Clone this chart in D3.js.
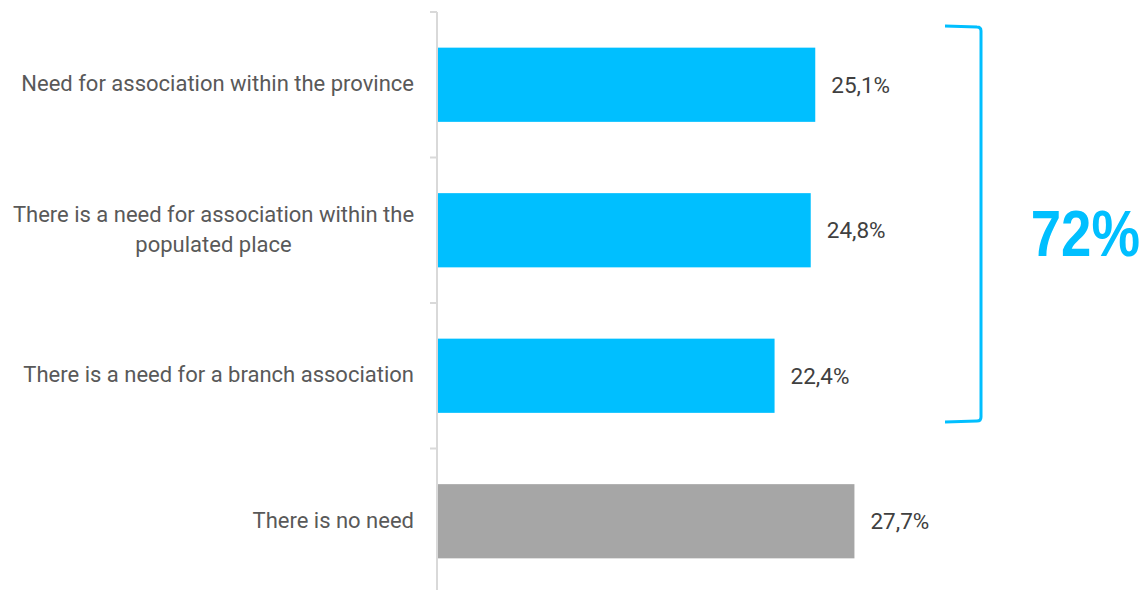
<!DOCTYPE html>
<html>
<head>
<meta charset="utf-8">
<script src="https://cdn.jsdelivr.net/npm/d3@7"></script>
<style>
  html, body { margin: 0; padding: 0; background: #fff; }
  svg { display: block; }
</style>
</head>
<body>
<svg id="chart" width="1148" height="590"></svg>
<script>
// Survey answers and their shares (%)
const categories = [
  "Need for association within the province",
  "There is a need for association within the populated place",
  "There is a need for a branch association",
  "There is no need"
];
const values = [25.1, 24.8, 22.4, 27.7];
const barColors = ["#00BFFF", "#00BFFF", "#00BFFF", "#A6A6A6"];
const groupTotal = "72%";
// wrapped category names
const labelLines = [
  ["Need for association within the province"],
  ["There is a need for association within the", "populated place"],
  ["There is a need for a branch association"],
  ["There is no need"]
];

const svg = d3.select("#chart");
const x0 = 437;

const x = d3.scaleLinear().domain([0, 1]).range([x0, x0 + 15.07]);
const y = d3.scaleBand().domain(categories).range([12, 594]).paddingInner(0.49).paddingOuter(0.245);

// bars
svg.selectAll("rect.bar").data(categories).join("rect")
  .attr("class", "bar")
  .attr("x", x(0))
  .attr("y", d => y(d))
  .attr("width", (d, i) => x(values[i]) - x(0))
  .attr("height", y.bandwidth())
  .attr("fill", (d, i) => barColors[i]);

// category axis: line with ticks between bands
const step = y.step();
const axisG = svg.append("g");
axisG.append("line")
  .attr("x1", x0).attr("x2", x0)
  .attr("y1", 12).attr("y2", 594)
  .attr("stroke", "#D9D9D9").attr("stroke-width", 2);
d3.range(categories.length + 1).forEach(i => {
  const yy = 12 + i * step;
  axisG.append("line")
    .attr("x1", x0 - 7).attr("x2", x0)
    .attr("y1", yy).attr("y2", yy)
    .attr("stroke", "#D9D9D9").attr("stroke-width", 2);
});

// category labels
const catFont = 22;
categories.forEach((c, i) => {
  const lines = labelLines[i];
  const cy = y(c) + y.bandwidth() / 2;
  const lh = 29.5;
  const t = svg.append("text")
    .attr("font-family", "Roboto, sans-serif")
    .attr("font-size", catFont)
    .attr("fill", "#595959");
  lines.forEach((ln, k) => {
    t.append("tspan")
      .attr("x", lines.length > 1 ? 213.5 : 414)
      .attr("text-anchor", lines.length > 1 ? "middle" : "end")
      .attr("y", cy + 6.5 + (k - (lines.length - 1) / 2) * lh)
      .text(ln);
  });
});

// value labels
svg.selectAll("text.val").data(categories).join("text")
  .attr("class", "val")
  .attr("x", (d, i) => x(values[i]) + 16)
  .attr("y", d => y(d) + y.bandwidth() / 2 + 8)
  .attr("font-family", "Roboto, sans-serif")
  .attr("font-size", 22.5)
  .attr("fill", "#404040")
  .text((d, i) => d3.format(".1f")(values[i]).replace(".", ",") + "%");

// bracket spanning the first three answers
const bTop = 26, bBot = 422, bx = 981, bl = 945, r = 4;
svg.append("path")
  .attr("d", `M${bl},${bTop} L${bx - r},${bTop + 1} Q${bx},${bTop + 1} ${bx},${bTop + r + 1} L${bx},${bBot - r - 1} Q${bx},${bBot - 1} ${bx - r},${bBot - 1} L${bl},${bBot}`)
  .attr("fill", "none")
  .attr("stroke", "#00BFFF")
  .attr("stroke-width", 3);

svg.append("text")
  .attr("transform", "translate(1140,256) scale(0.84,1)")
  .attr("text-anchor", "end")
  .attr("font-family", "'Liberation Sans', Arial, sans-serif")
  .attr("font-weight", "bold")
  .attr("font-size", 65)
  .attr("fill", "#00BFFF")
  .text(groupTotal);
</script>
</body>
</html>
